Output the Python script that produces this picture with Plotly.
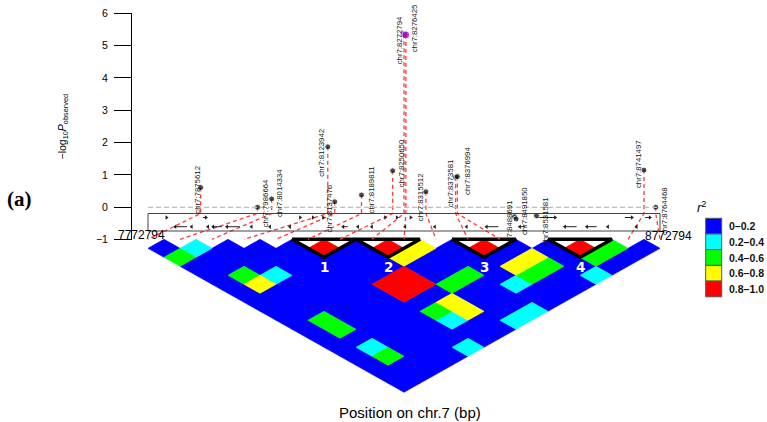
import plotly.graph_objects as go

# ---------------- data ----------------
START_BP, END_BP = 7772794, 8772794
snp_ids = ["chr7:7875612", "chr7:7986664", "chr7:8014334", "chr7:8123942", "chr7:8137476",
           "chr7:8189811", "chr7:8250650", "chr7:8272794", "chr7:8276425", "chr7:8315512",
           "chr7:8373581", "chr7:8376994", "chr7:8488691", "chr7:8491850", "chr7:8531581",
           "chr7:8741497", "chr7:8764468"]
snp_pos = [7875612, 7986664, 8014334, 8123942, 8137476, 8189811, 8250650, 8272794, 8276425,
           8315512, 8373581, 8376994, 8488691, 8491850, 8531581, 8741497, 8764468]
snp_logp = [0.61, 0.0, 0.26, 1.87, 0.17, 0.38, 1.13, 5.35, 5.33, 0.48, 0.93, 0.95,
            -0.29, -0.36, -0.26, 1.15, 0.0]
lead_snps = ["chr7:8272794", "chr7:8276425"]

# r^2 of SNP i with SNPs j>i (upper triangle, row i = 1..16)
r2_rows = [
    [0.1, 0.5, 0.1, 0.1, 0.1, 0.1, 0.1, 0.1, 0.1, 0.1, 0.1, 0.1, 0.1, 0.1, 0.1, 0.1],
    [0.3, 0.1, 0.1, 0.5, 0.7, 0.1, 0.1, 0.1, 0.5, 0.5, 0.1, 0.3, 0.5, 0.1, 0.1],
    [0.1, 0.1, 0.1, 0.3, 0.1, 0.1, 0.1, 0.1, 0.1, 0.1, 0.1, 0.1, 0.1, 0.1],
    [0.1, 0.1, 0.1, 0.1, 0.1, 0.1, 0.1, 0.1, 0.1, 0.1, 0.1, 0.1, 0.1],
    [0.1, 0.1, 0.1, 0.1, 0.1, 0.1, 0.1, 0.1, 0.1, 0.1, 0.1, 0.3],
    [0.9, 0.1, 0.1, 0.1, 0.9, 0.9, 0.1, 0.5, 0.3, 0.1, 0.1],
    [0.1, 0.1, 0.1, 0.9, 0.9, 0.1, 0.7, 0.7, 0.1, 0.1],
    [0.9, 0.7, 0.1, 0.1, 0.5, 0.1, 0.1, 0.1, 0.3],
    [0.7, 0.1, 0.1, 0.5, 0.1, 0.1, 0.1, 0.3],
    [0.1, 0.1, 0.1, 0.1, 0.3, 0.1, 0.1],
    [0.9, 0.1, 0.7, 0.5, 0.1, 0.1],
    [0.1, 0.7, 0.5, 0.1, 0.1],
    [0.1, 0.1, 0.1, 0.3],
    [0.9, 0.5, 0.1],
    [0.5, 0.1],
    [0.1],
]
ld_blocks = [(6, 7), (8, 9), (11, 12), (14, 15)]
block_names = ["1", "2", "3", "4"]

r2_breaks = [0.0, 0.2, 0.4, 0.6, 0.8, 1.0]
r2_labels = ["0\u20130.2", "0.2\u20130.4", "0.4\u20130.6", "0.6\u20130.8", "0.8\u20131.0"]
r2_colors = ["#0000FF", "#00FFFF", "#00FF00", "#FFFF00", "#FF0000"]
y_ticks = [-1, 0, 1, 2, 3, 4, 5, 6]

gene_start = [7809000, 7880000, 8070000, 8095000, 8115000, 8236000, 8259000, 8286000, 8532000,
              8704000, 8744000,
              7826000, 7858000, 7890000, 7900000, 7927000, 7975000, 8011000, 8050000, 8154000,
              8183000, 8210000, 8275000, 8333000, 8395000, 8434000, 8499000, 8587000, 8630000,
              8671000, 8727000]
gene_end = [7809000, 7886000, 8070000, 8095000, 8115000, 8236000, 8259000, 8286000, 8568000,
            8718000, 8753000,
            7849000, 7858000, 7890000, 7917000, 7952000, 7975000, 8011000, 8050000, 8163000,
            8183000, 8210000, 8275000, 8333000, 8395000, 8457000, 8509000, 8610000, 8649000,
            8671000, 8727000]
gene_row = [1] * 11 + [2] * 20
gene_strand = [1] * 11 + [-1] * 20

# ---------------- layout geometry (styling) ----------------
W, H = 767, 422
PX_L, PX_R = 148, 660                    # pixel columns of START_BP / END_BP
bp_per_px = (END_BP - START_BP) / (PX_R - PX_L)
x_range = [START_BP - PX_L * bp_per_px, START_BP + (W - PX_L) * bp_per_px]
Y0_PX, PX_PER_UNIT = 207.3, 32.33        # pixel row of value 0, pixels per unit


def v(py):
    return (Y0_PX - py) / PX_PER_UNIT


def py_of(val):
    return Y0_PX - val * PX_PER_UNIT


y2_range = [v(H), v(0)]
ydom = [1 - py_of(-1) / H, 1 - py_of(6) / H]

label_dx = [-4, 7.5, 8, -6, -5, 9, 9, -5, 9, -5.5, -5.5, 10, -5, 9, 9, -6, 9]
label_dy = [2.5, -4, -5.5, 6, 7, -5, -7, 6, -6.5, 5, 6, -6, 8, -8, 6, -6, 4]

RECT_TOP, RECT_BOT = v(213.5), v(231)
HEAT_TOP = v(239.3)
HH = 9.0 / PX_PER_UNIT
n = len(snp_pos)
HW = (END_BP - START_BP) / (n - 1) / 2
heat_x = [START_BP + k * 2 * HW for k in range(n)]

fig = go.Figure()

# dummy trace so that the visible y-axis is drawn
fig.add_trace(go.Scatter(x=[0.5], y=[0], xaxis="x2", yaxis="y", mode="markers",
                         marker=dict(opacity=0), hoverinfo="skip", showlegend=False))

# ---------- heatmap cells ----------
polys = {c: ([], []) for c in range(len(r2_colors))}
for i in range(n - 1):
    for j in range(i + 1, n):
        r = r2_rows[i][j - i - 1]
        k = 0
        while k < len(r2_colors) - 1 and r >= r2_breaks[k + 1]:
            k += 1
        cx = (heat_x[i] + heat_x[j]) / 2
        cy = HEAT_TOP - (j - i) * HH
        xs, ys = polys[k]
        xs += [cx - HW, cx, cx + HW, cx, cx - HW, None]
        ys += [cy, cy + HH, cy, cy - HH, cy, None]
for k, col in enumerate(r2_colors):
    xs, ys = polys[k]
    if xs:
        fig.add_trace(go.Scatter(x=xs, y=ys, xaxis="x", yaxis="y2", mode="lines",
                                 fill="toself", fillcolor=col,
                                 line=dict(color=col, width=0.6),
                                 hoverinfo="skip", showlegend=False))

# ---------- LD block triangles ----------
tx, ty = [], []
for (a, b) in ld_blocks:
    xl = heat_x[a - 1] - HW
    xr = heat_x[b - 1] + HW
    xm = (heat_x[a - 1] + heat_x[b - 1]) / 2
    yb = HEAT_TOP - (b - a + 1) * HH
    tx += [xl, xr, xm, xl, None]
    ty += [HEAT_TOP, HEAT_TOP, yb, HEAT_TOP, None]
fig.add_trace(go.Scatter(x=tx, y=ty, xaxis="x", yaxis="y2", mode="lines",
                         line=dict(color="black", width=3.5),
                         hoverinfo="skip", showlegend=False))

# ---------- connecting red dashed lines ----------
lx, ly = [], []
for k in range(n):
    if snp_logp[k] >= 0:
        lx += [snp_pos[k], snp_pos[k], heat_x[k], None]
        ly += [snp_logp[k], RECT_TOP, HEAT_TOP, None]
fig.add_trace(go.Scatter(x=lx, y=ly, xaxis="x", yaxis="y2", mode="lines",
                         line=dict(color="#FF3B3B", width=1.3, dash="4px,3px"),
                         hoverinfo="skip", showlegend=False))

# ---------- gene glyphs ----------
row_y = {1: v(217.5), 2: v(226.7)}
gx, gy = [], []
hx, hy, hs = [], [], []
for s, e, r, st in zip(gene_start, gene_end, gene_row, gene_strand):
    if e > s:
        gx += [s, e, None]
        gy += [row_y[r], row_y[r], None]
    hx.append(e if st > 0 else s)
    hy.append(row_y[r])
    hs.append("triangle-right" if st > 0 else "triangle-left")
fig.add_trace(go.Scatter(x=gx, y=gy, xaxis="x", yaxis="y2", mode="lines",
                         line=dict(color="#222222", width=1),
                         hoverinfo="skip", showlegend=False))
fig.add_trace(go.Scatter(x=hx, y=hy, xaxis="x", yaxis="y2", mode="markers",
                         marker=dict(symbol=hs, size=4, color="#222222"),
                         hoverinfo="skip", showlegend=False))

# ---------- SNP points ----------
pt_col = ["#9900CC" if s in lead_snps else "black" for s in snp_ids]
pt_size = [8 if s in lead_snps else 6 for s in snp_ids]
fig.add_trace(go.Scatter(x=snp_pos, y=snp_logp, xaxis="x", yaxis="y2", mode="markers",
                         marker=dict(color=pt_col, size=pt_size),
                         hoverinfo="skip", showlegend=False))

# ---------- shapes ----------
shapes = [
    dict(type="line", xref="x", yref="y2", x0=START_BP, x1=END_BP, y0=0, y1=0,
         line=dict(color="#BDBDBD", width=1.2, dash="5px,3px")),
    dict(type="rect", xref="x", yref="y2", x0=START_BP, x1=END_BP,
         y0=RECT_BOT, y1=RECT_TOP, line=dict(color="#444444", width=1)),
]
# legend boxes
LX0, LX1, LY0, LBH = 705.7, 721.7, 218.3, 15.7
annotations = []
for k, (lab, col) in enumerate(zip(r2_labels, r2_colors)):
    y_top = LY0 + k * LBH
    shapes.append(dict(type="rect", xref="paper", yref="paper",
                       x0=LX0 / W, x1=LX1 / W, y0=1 - (y_top + LBH) / H, y1=1 - y_top / H,
                       fillcolor=col, line=dict(color="#555555", width=1)))
    annotations.append(dict(xref="paper", yref="paper", x=727 / W, y=1 - (y_top + LBH / 2) / H,
                            text="<b>%s</b>" % lab, showarrow=False, xanchor="left",
                            yanchor="middle",
                            font=dict(size=10.5, color="#111111", family="Liberation Sans")))
annotations.append(dict(xref="paper", yref="paper", x=708 / W, y=1 - 207 / H,
                        text="<i>r</i><sup>2</sup>", showarrow=False,
                        font=dict(size=13, color="black", family="Liberation Sans")))

# SNP labels
for k in range(n):
    annotations.append(dict(xref="x", yref="y2", x=snp_pos[k], y=snp_logp[k],
                            xshift=label_dx[k], yshift=-label_dy[k],
                            text=snp_ids[k], textangle=-90, showarrow=False,
                            xanchor="center", yanchor="middle",
                            font=dict(size=7.8, color="#111111", family="Liberation Sans")))

# block numbers
for (a, b), name in zip(ld_blocks, block_names):
    xm = (heat_x[a - 1] + heat_x[b - 1]) / 2
    yb = HEAT_TOP - (b - a + 1) * HH
    annotations.append(dict(xref="x", yref="y2", x=xm, y=yb, yshift=-10, text="<b>%s</b>" % name,
                            showarrow=False, xanchor="center", yanchor="middle",
                            font=dict(size=13.5, color="white", family="DejaVu Sans")))

# region end labels
annotations.append(dict(xref="x", yref="y2", x=START_BP + 19 * bp_per_px, y=v(235),
                        text=str(START_BP), showarrow=False, xanchor="right", yanchor="middle",
                        font=dict(size=12, color="black", family="Liberation Sans")))
annotations.append(dict(xref="x", yref="y2", x=START_BP + 495 * bp_per_px, y=v(236),
                        text=str(END_BP), showarrow=False, xanchor="left", yanchor="middle",
                        font=dict(size=12, color="black", family="Liberation Sans")))

# axis titles and panel tag
annotations.append(dict(xref="paper", yref="paper", x=62 / W, y=1 - 126.5 / H,
                        text="\u2212log<sub>10</sub><i>P</i><sub>observed</sub>", textangle=-90,
                        showarrow=False, xanchor="center", yanchor="middle",
                        font=dict(size=10.5, color="black", family="Liberation Sans")))
annotations.append(dict(xref="paper", yref="paper", x=409.5 / W, y=1 - 412 / H,
                        text="Position on chr.7 (bp)", showarrow=False,
                        xanchor="center", yanchor="middle",
                        font=dict(size=15, color="black", family="Liberation Sans")))
annotations.append(dict(xref="paper", yref="paper", x=19 / W, y=1 - 199 / H,
                        text="<b>(a)</b>", showarrow=False, xanchor="center", yanchor="middle",
                        font=dict(size=21, color="black", family="Liberation Serif")))

fig.update_layout(
    width=W, height=H, margin=dict(l=0, r=0, t=0, b=0),
    paper_bgcolor="white", plot_bgcolor="rgba(0,0,0,0)", showlegend=False,
    xaxis=dict(domain=[0, 1], range=x_range, visible=False, anchor="y2"),
    xaxis2=dict(domain=[132 / W, 1], range=[0, 1], visible=False, anchor="y"),
    yaxis=dict(domain=ydom, range=[-1, 6], anchor="x2", automargin=False,
               showline=True, linecolor="black", linewidth=1, ticks="outside", ticklen=17,
               tickwidth=1, tickcolor="black", tickvals=y_ticks, showgrid=False,
               zeroline=False, ticklabelstandoff=4,
               tickfont=dict(size=10.5, color="black", family="Liberation Sans")),
    yaxis2=dict(domain=[0, 1], range=y2_range, visible=False, anchor="x"),
    shapes=shapes, annotations=annotations,
)

fig.write_html("out.html", config={"displayModeBar": False},
               post_script="document.body.style.margin='0';document.body.style.padding='0';")
